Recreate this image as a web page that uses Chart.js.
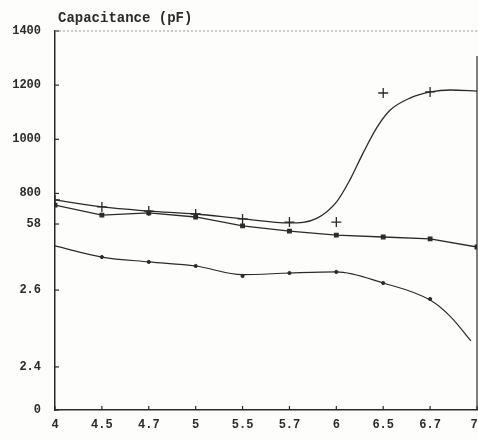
<!DOCTYPE html>
<html>
<head>
<meta charset="utf-8">
<script src="https://cdn.jsdelivr.net/npm/chart.js@4/dist/chart.umd.min.js"></script>
<style>
html,body{margin:0;padding:0;background:#fdfdfb;overflow:hidden;}
#wrap{width:478px;height:439px;position:relative;}
canvas{display:block;}
</style>
</head>
<body>
<div id="wrap"><canvas id="c"></canvas></div>
<script>
// ---- data ----
const xLabels = ['4','4.5','4.7','5','5.5','5.7','6','6.5','6.7','7'];
const yTickValues = [0, 159, 443, 687, 800, 1000, 1200, 1400];
const yTickLabels = ['0', '2.4', '2.6', '58', '800', '1000', '1200', '1400'];
const yTitle = 'Capacitance (pF)';

// upper S-shaped curve (fitted line) and its "+" measurements
const curveA_x = [0, 1, 2, 3, 4, 5, 5.58, 6.01, 6.29, 6.57, 6.87, 7.15, 7.58, 8.01, 8.44, 9];
const curveA_y = [776, 750, 735, 724, 706, 691, 708, 770, 850, 949, 1045, 1108, 1153, 1175, 1182, 1178];
const markA_x = [0, 1, 2, 3, 4, 5, 6, 7, 8];
const markA_y = [776, 750, 735, 724, 706, 694, 694, 1171, 1175];

// middle, nearly straight series
const lineB_x = [0, 1, 2, 3, 4, 5, 6, 7, 8, 9];
const lineB_y = [757, 720, 728, 713, 680, 661, 646, 639, 632, 602];

// lower curve and its dot measurements
const curveC_x = [0, 1, 2, 3, 4, 5, 6, 7, 8, 8.44, 8.87];
const curveC_y = [606, 565, 547, 532, 500, 506, 510, 469, 406, 344, 255];
const markC_x = [1, 2, 3, 4, 5, 6, 7, 8];
const markC_y = [565, 547, 532, 495, 506, 510, 469, 410];

const pts = (xs, ys) => xs.map((x, i) => ({x: x, y: ys[i]}));
const INK = '#2a2a2a';
const FONT = '"Liberation Mono", "DejaVu Sans Mono", monospace';

const decor = {
  id: 'decor',
  afterDraw(chart) {
    const ctx = chart.ctx;
    const {left, right, top, bottom} = chart.chartArea;
    const xs = chart.scales.x, ys = chart.scales.y;
    ctx.save();
    ctx.strokeStyle = INK;
    ctx.lineWidth = 1.2;
    // inward ticks on y axis
    yTickValues.forEach(v => {
      const p = ys.getPixelForValue(v);
      ctx.beginPath(); ctx.moveTo(left, p); ctx.lineTo(left + 4, p); ctx.stroke();
    });
    // inward ticks and labels on x axis
    ctx.fillStyle = INK;
    ctx.font = 'bold 12px ' + FONT;
    ctx.textAlign = 'center';
    ctx.textBaseline = 'top';
    xLabels.forEach((l, i) => {
      const p = xs.getPixelForValue(i);
      ctx.beginPath(); ctx.moveTo(p, bottom); ctx.lineTo(p, bottom - 4); ctx.stroke();
      ctx.fillText(l, Math.min(p, right - 3), bottom + 9);
    });
    // right border
    ctx.beginPath(); ctx.moveTo(right, top + 25); ctx.lineTo(right, bottom); ctx.stroke();
    // faint dotted top border
    ctx.strokeStyle = '#9a9a9a';
    ctx.lineWidth = 1;
    ctx.setLineDash([2, 2]);
    ctx.beginPath(); ctx.moveTo(left, top); ctx.lineTo(right, top); ctx.stroke();
    ctx.setLineDash([]);
    // axis title
    ctx.font = 'bold 14px ' + FONT;
    ctx.textAlign = 'left';
    ctx.textBaseline = 'alphabetic';
    ctx.fillText(yTitle, left + 3, top - 9);
    ctx.restore();
  }
};

new Chart(document.getElementById('c'), {
  type: 'line',
  data: {
    datasets: [
      {
        data: pts(curveA_x, curveA_y), borderColor: INK, borderWidth: 1.3,
        pointRadius: 0, cubicInterpolationMode: 'monotone', fill: false
      },
      {
        data: pts(markA_x, markA_y), showLine: false, pointStyle: 'cross',
        pointRadius: 5, pointBorderWidth: 1.3, borderColor: INK, pointBorderColor: INK
      },
      {
        data: pts(lineB_x, lineB_y), borderColor: INK, borderWidth: 1.3,
        pointStyle: 'rect', pointRadius: 2.5, pointBackgroundColor: INK, pointBorderColor: INK, tension: 0
      },
      {
        data: pts(curveC_x, curveC_y), borderColor: INK, borderWidth: 1.2,
        pointRadius: 0, cubicInterpolationMode: 'monotone', fill: false
      },
      {
        data: pts(markC_x, markC_y), showLine: false, pointStyle: 'circle',
        pointRadius: 1.6, pointBackgroundColor: INK, pointBorderColor: INK
      }
    ]
  },
  options: {
    responsive: true,
    maintainAspectRatio: false,
    animation: false,
    layout: {autoPadding: false, padding: {top: 31, right: 1, left: 0, bottom: 0}},
    plugins: {legend: {display: false}, tooltip: {enabled: false}},
    scales: {
      x: {
        type: 'linear', min: 0, max: 9,
        afterBuildTicks: s => { s.ticks = xLabels.map((l, i) => ({value: i})); },
        afterFit: s => { s.height = 29; s.paddingLeft = 0; s.paddingRight = 0; },
        grid: {display: false, drawTicks: false},
        border: {display: true, color: INK, width: 1.5},
        ticks: {display: false}
      },
      y: {
        type: 'linear', min: 0, max: 1400,
        afterBuildTicks: s => { s.ticks = yTickValues.map(v => ({value: v})); },
        afterFit: s => { s.width = 55; s.paddingTop = 0; s.paddingBottom = 0; },
        grid: {display: false, drawTicks: false},
        border: {display: true, color: INK, width: 1.5},
        ticks: {
          padding: 14, color: INK, autoSkip: false,
          font: {family: FONT, size: 12, weight: 'bold'},
          callback: (v, i) => yTickLabels[i]
        }
      }
    }
  },
  plugins: [decor]
});
</script>
</body>
</html>
